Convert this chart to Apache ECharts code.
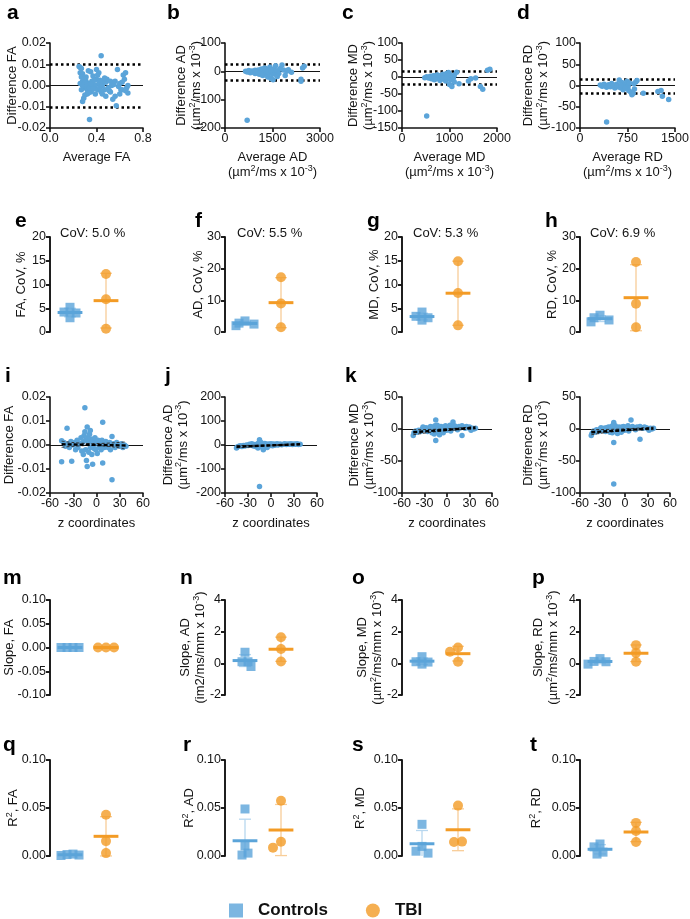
<!DOCTYPE html>
<html><head><meta charset="utf-8">
<script src="https://cdn.jsdelivr.net/npm/echarts/dist/echarts.min.js"></script>
<style>html,body{margin:0;padding:0;background:#fff}#c{width:690px;height:919px}</style>
</head><body><div id="c"></div>
<script>
// ================= DATA =================
// Bland-Altman: [average, difference]
const baFA = [[0.25,0.009],[0.26,0.0085],[0.27,0.008],[0.26,0.006],[0.28,0.0055],[0.27,0.004],[0.28,0.002],[0.29,0.001],[0.3,0.0],[0.3,-0.001],[0.31,0.002],[0.32,-0.002],[0.33,0.001],[0.34,0.0],[0.35,-0.003],[0.36,0.002],[0.37,0.001],[0.38,-0.001],[0.39,0.0],[0.4,0.003],[0.41,-0.002],[0.42,0.001],[0.44,0.014],[0.34,-0.016],[0.28,-0.0075],[0.29,-0.006],[0.3,-0.0045],[0.32,-0.004],[0.33,0.007],[0.35,0.0065],[0.37,0.0045],[0.4,0.0075],[0.42,0.006],[0.43,-0.001],[0.45,0.0],[0.46,0.002],[0.47,-0.002],[0.48,0.0015],[0.5,-0.001],[0.52,-0.003],[0.53,0.0],[0.54,-0.0065],[0.56,-0.005],[0.57,-0.0095],[0.58,0.0075],[0.6,0.001],[0.62,-0.002],[0.63,0.005],[0.65,0.006],[0.66,-0.001],[0.67,0.0],[0.67,-0.0035],[0.64,0.003],[0.61,-0.002],[0.59,-0.0005],[0.55,0.0005],[0.51,-0.0025],[0.49,0.003],[0.47,0.0035],[0.44,-0.003],[0.41,0.005],[0.39,-0.004],[0.36,-0.002],[0.33,-0.0035],[0.31,0.004],[0.29,0.003],[0.27,-0.002],[0.26,0.001],[0.28,0.0],[0.3,0.0015],[0.32,0.0005],[0.34,-0.001],[0.35,0.001],[0.37,-0.0015],[0.38,0.0025],[0.43,0.0025],[0.45,-0.004],[0.48,-0.005],[0.52,0.002],[0.56,0.002],[0.6,-0.004],[0.62,0.0015],[0.65,-0.0025]];
const baAD = [[700,-173],[650,0],[700,-2],[750,3],[800,-5],[850,1],[900,-3],[950,-8],[1000,2],[1020,-4],[1050,5],[1080,-10],[1100,0],[1120,-6],[1150,8],[1180,-2],[1200,-15],[1220,4],[1250,-3],[1280,10],[1300,-8],[1320,2],[1350,-20],[1380,6],[1400,-5],[1420,15],[1450,-25],[1480,3],[1500,-10],[1520,-30],[1550,8],[1580,-5],[1600,20],[1620,-12],[1650,2],[1700,-8],[1750,10],[1800,22],[1850,5],[1900,-15],[1950,0],[2000,6],[2100,-3],[2400,-35],[2400,-28],[2450,12],[2500,18],[1250,12],[1350,-1],[1150,-12],[1050,-7],[950,4],[1450,5],[1650,-18]];
const baMD = [[520,-115],[480,-2],[520,1],[560,-3],[600,2],[620,-5],[650,0],[680,-8],[700,3],[720,-2],[740,6],[760,-4],[780,1],[800,-10],[820,4],[840,-6],[860,8],[880,-1],[900,3],[920,-12],[940,10],[960,-5],[980,13],[1000,-22],[1020,-8],[1050,-28],[1080,-3],[1100,5],[1150,14],[1200,-20],[1400,-12],[1450,-5],[1550,-3],[1650,-28],[1700,-36],[1800,20],[1850,23],[700,-6],[750,5],[850,-2],[950,-1],[1000,7],[1100,-15],[580,0],[660,4]];
const baRD = [[420,-86],[320,1],[350,-2],[380,3],[400,0],[420,-4],[450,2],[480,-3],[500,5],[520,-1],[550,-6],[580,3],[600,-3],[620,13],[640,-5],[660,7],[680,-10],[700,2],[720,-4],[740,10],[760,-2],[780,6],[800,-15],[820,-22],[840,-18],[860,-8],[880,8],[900,12],[1000,-18],[1230,-14],[1280,-12],[1300,-25],[1400,-33],[360,0],[460,-1],[530,1],[590,-2],[650,0],[710,-7],[770,-12],[850,4]];
// limits of agreement [upper, lower]
const loaFA = [0.0062, -0.0062];
const loaAD = [24, -31];
const loaMD = [18, -22];
const loaRD = [15, -19];

// CoV (%) per subject
const covFA_ctrl = [5.2, 4.2, 4.0, 3.0];   const covFA_tbi = [12.2, 6.9, 0.7];
const covAD_ctrl = [3.5, 2.8, 2.5, 2.0];   const covAD_tbi = [17.3, 9.0, 1.5];
const covMD_ctrl = [4.2, 3.3, 3.0, 2.5];   const covMD_tbi = [14.9, 8.2, 1.4];
const covRD_ctrl = [5.3, 4.5, 3.8, 3.2];   const covRD_tbi = [22.1, 8.9, 1.5];
const covText = ['CoV: 5.0 %', 'CoV: 5.5 %', 'CoV: 5.3 %', 'CoV: 6.9 %'];

// difference vs z coordinate: [z, difference]
const zFA = [[-45,0.0018],[-45,-0.007],[-42,0.001],[-40,-0.0005],[-38,0.007],[-36,0.0005],[-35,-0.001],[-33,0.0015],[-32,-0.0068],[-30,0.0],[-28,0.001],[-27,-0.002],[-25,0.002],[-24,-0.001],[-22,0.0005],[-20,0.003],[-19,-0.0025],[-18,0.001],[-17,-0.004],[-16,0.004],[-15,0.0155],[-15,0.0055],[-14,0.002],[-14,-0.002],[-13,-0.0065],[-12,-0.009],[-12,0.0075],[-11,0.003],[-10,-0.003],[-10,0.001],[-9,0.0045],[-8,-0.001],[-8,0.006],[-7,0.0025],[-6,-0.004],[-5,-0.008],[-5,0.002],[-4,0.0005],[-3,-0.0015],[-2,0.003],[-1,-0.002],[0,0.001],[1,-0.0035],[2,0.002],[3,0.0],[4,-0.001],[5,0.0015],[6,-0.002],[7,0.002],[8,0.0095],[8,-0.0075],[9,0.0005],[10,-0.001],[12,0.0015],[14,0.0],[15,-0.001],[17,0.001],[18,-0.002],[20,-0.0145],[20,0.0035],[22,0.0005],[24,-0.001],[26,0.001],[28,0.0],[30,-0.0005],[32,0.0005],[34,-0.001],[36,0.0],[38,-0.0005]];
const zAD = [[-45,-12],[-44,-8],[-42,-5],[-40,-3],[-38,-6],[-36,-2],[-34,-4],[-32,0],[-30,-2],[-28,3],[-26,-1],[-25,5],[-23,-4],[-22,2],[-20,-6],[-19,0],[-18,4],[-17,-12],[-16,8],[-15,22],[-15,-173],[-14,-2],[-13,10],[-12,-8],[-11,3],[-10,-20],[-9,1],[-8,6],[-7,-3],[-6,2],[-5,-10],[-4,4],[-3,0],[-2,3],[-1,-2],[0,5],[1,1],[2,-3],[3,4],[4,2],[5,-1],[6,3],[8,5],[9,0],[10,2],[12,4],[14,1],[16,3],[18,5],[20,2],[22,4],[24,3],[26,5],[28,2],[30,4],[32,3],[34,5],[36,2],[38,3]];
const zMD = [[-45,-10],[-44,-6],[-42,-3],[-40,-5],[-38,-2],[-35,-4],[-33,0],[-32,3],[-30,-1],[-28,2],[-26,-4],[-25,1],[-23,-2],[-22,4],[-20,-6],[-19,0],[-18,3],[-17,-8],[-16,5],[-15,14],[-15,-18],[-14,-3],[-13,6],[-12,-5],[-11,2],[-10,-9],[-9,1],[-8,4],[-7,-2],[-6,2],[-5,-6],[-4,3],[-3,-1],[-2,5],[-1,-2],[0,3],[1,-1],[2,4],[3,0],[4,6],[5,-3],[6,2],[8,11],[9,1],[10,5],[12,3],[14,-1],[16,4],[18,2],[20,-10],[20,5],[22,3],[24,1],[26,4],[28,2],[30,3],[32,-2],[34,1],[36,0],[38,1]];
const zRD = [[-45,-10],[-44,-7],[-42,-3],[-40,-5],[-38,-1],[-35,-4],[-33,0],[-32,2],[-30,-2],[-28,1],[-26,-4],[-25,2],[-23,-1],[-22,3],[-20,-5],[-19,0],[-18,4],[-17,-6],[-16,6],[-15,10],[-15,-21],[-15,-86],[-14,-2],[-13,5],[-12,-4],[-11,2],[-10,-7],[-9,1],[-8,3],[-7,-2],[-6,1],[-5,-5],[-4,3],[-3,-1],[-2,4],[-1,-2],[0,2],[1,-1],[2,3],[3,0],[4,5],[5,-3],[6,2],[8,14],[9,1],[10,4],[12,2],[14,-1],[16,3],[18,2],[20,-16],[20,4],[22,2],[24,1],[26,3],[28,2],[30,1],[32,-2],[34,1],[36,0],[38,1]];
// regression line and 95% CI bands
const regFA = [[-45,0.0003],[38,-0.0002]];  const ciFAhi = [[-45,0.0016],[-5,0.0006],[38,0.0013]];  const ciFAlo = [[-45,-0.001],[-5,-0.0002],[38,-0.0017]];
const regAD = [[-45,-7],[38,3]];           const ciADhi = [[-45,-2],[-5,0],[38,6]];               const ciADlo = [[-45,-12],[-5,-4],[38,0]];
const regMD = [[-45,-5],[38,2]];           const ciMDhi = [[-45,-1],[-5,0],[38,4]];               const ciMDlo = [[-45,-9],[-5,-3],[38,0]];
const regRD = [[-45,-5],[38,1]];           const ciRDhi = [[-45,-1],[-5,0],[38,3]];               const ciRDlo = [[-45,-9],[-5,-3],[38,-1]];

// slopes
const slFA_ctrl = [0, 0, 0, 0];              const slFA_tbi = [0, 0, 0];
const slAD_ctrl = [0.7, 0.1, 0.1, -0.2];     const slAD_tbi = [1.65, 0.9, 0.12];
const slMD_ctrl = [0.42, 0.1, 0.08, -0.05];  const slMD_tbi = [1.0, 0.73, 0.1];
const slRD_ctrl = [0.3, 0.12, 0.1, -0.05];   const slRD_tbi = [1.15, 0.66, 0.1];
// R^2
const r2FA_ctrl = [0.002, 0.0015, 0.001, 0.0005];  const r2FA_tbi = [0.043, 0.0155, 0.003];
const r2AD_ctrl = [0.049, 0.0105, 0.003, 0.001];   const r2AD_tbi = [0.0576, 0.0149, 0.0087];
const r2MD_ctrl = [0.033, 0.01, 0.005, 0.003];     const r2MD_tbi = [0.0525, 0.0145, 0.015];
const r2RD_ctrl = [0.0125, 0.0095, 0.004, 0.002];  const r2RD_tbi = [0.0345, 0.026, 0.0145];

const groupNames = ['Controls', 'TBI'];

// ================= STYLE / BUILD =================
const FONT = '"Liberation Sans", Arial, Helvetica, sans-serif';
const BLUE = '#5ba4d9', ORANGE = '#f39b25', LBLUE = '#b7d7ef', LORANGE = '#f8cd98', INK = '#141414';
const RICH = {
  n: {fontFamily: FONT, fontSize: 13, color: INK, lineHeight: 15, verticalAlign: 'bottom'},
  s: {fontFamily: FONT, fontSize: 9, color: INK, lineHeight: 8, verticalAlign: 'top'}
};
const U_MS = '{n|(µm}{s|2}{n|/ms x 10}{s|-3}{n|)}';
const U_MSMM = '{n|(µm}{s|2}{n|/ms/mm x 10}{s|-3}{n|)}';

const grids = [], xAxes = [], yAxes = [], series = [], graphics = [];
function addGrid(l, t, w, h) {
  grids.push({left: l, top: t, width: w, height: h, containLabel: false, outerBoundsMode: 'none'});
  return grids.length - 1;
}
function axisCommon(lw) {
  return {
    axisLine: {show: true, onZero: false, lineStyle: {color: INK, width: lw || 1.6}},
    axisTick: {show: true, length: 4, lineStyle: {color: INK, width: lw || 1.6}},
    splitLine: {show: false},
    nameLocation: 'middle',
    nameMoveOverlap: false,
    nameTextStyle: {rich: RICH, fontFamily: FONT, fontSize: 13, color: INK}
  };
}
function label(fmt) {
  return {fontFamily: FONT, fontSize: 12.5, color: INK, margin: 4, showMinLabel: true, showMaxLabel: true, hideOverlap: false,
    formatter: v => (fmt != null ? v.toFixed(fmt) : String(v))};
}
function text(x, y, str, opt) {
  graphics.push({type: 'text', x: x, y: y, silent: true,
    style: Object.assign({text: str, fontFamily: FONT, fill: INK, fontSize: 13, verticalAlign: 'middle', align: 'left'}, opt || {})});
}
const letter = (x, y, s) => text(x, y, s, {fontSize: 21, fontWeight: 'bold', fill: '#000'});

function linePanel(o) {
  const gi = addGrid(o.l, o.t, o.w, o.h);
  xAxes.push(Object.assign(axisCommon(), {gridIndex: gi, type: 'value', position: 'bottom',
    min: o.x[0], max: o.x[1], interval: o.x[2], axisLabel: label(o.x[3]), name: o.xname, nameGap: o.xgap}));
  yAxes.push(Object.assign(axisCommon(), {gridIndex: gi, type: 'value', position: 'left',
    min: o.y[0], max: o.y[1], interval: o.y[2], axisLabel: label(o.y[3]), name: o.yname, nameGap: o.ygap}));
  const xi = xAxes.length - 1, yi = yAxes.length - 1;
  const ml = [{yAxis: 0, lineStyle: {type: 'solid', width: 1.1, color: INK}}];
  (o.limits || []).forEach(v => ml.push({yAxis: v, lineStyle: {type: [2.5, 3], width: 2.6, color: '#000', cap: 'butt'}}));
  series.push({type: 'scatter', name: 'diff', xAxisIndex: xi, yAxisIndex: yi, data: o.pts, symbolSize: 5.5,
    itemStyle: {color: BLUE, opacity: 1}, z: 3,
    markLine: {silent: true, symbol: 'none', label: {show: false}, z: 2, data: ml}});
  if (o.reg) {
    [o.cihi, o.cilo].forEach(d => series.push({type: 'line', xAxisIndex: xi, yAxisIndex: yi, data: d, symbol: 'none', smooth: true,
      lineStyle: {color: '#333', width: 1, type: [3, 2]}, z: 4}));
    series.push({type: 'line', xAxisIndex: xi, yAxisIndex: yi, data: o.reg, symbol: 'none',
      lineStyle: {color: '#000', width: 2.4, type: [4, 2]}, z: 5});
  }
}

const mean = a => a.reduce((s, v) => s + v, 0) / a.length;
const sd = a => { const m = mean(a); return Math.sqrt(a.reduce((s, v) => s + (v - m) * (v - m), 0) / (a.length - 1)); };
// scatter-dot layout: points whose values collide are pushed sideways (like a column scatter plot)
function spread(vals, xc, range, step) {
  const order = vals.map((v, i) => i).sort((a, b) => vals[b] - vals[a]);
  const th = range * 0.07;
  const slots = [0, -1, 1, -2, 2, -3, 3];
  const slot = new Array(vals.length);
  const placed = [];
  order.forEach(k => {
    const taken = placed.filter(j => Math.abs(vals[j] - vals[k]) < th).map(j => slot[j]);
    slot[k] = slots.find(s => taken.indexOf(s) < 0);
    placed.push(k);
  });
  const out = new Array(vals.length);
  order.forEach(k => {
    const grp = order.filter(j => Math.abs(vals[j] - vals[k]) < th * 0.3).map(j => slot[j]);
    const shift = (Math.min.apply(null, grp) + Math.max.apply(null, grp)) / 2;
    out[k] = [xc + (slot[k] - (grp.length > 1 ? shift : 0)) * step, vals[k]];
  });
  return out;
}
function dotPanel(o) {
  const gi = addGrid(o.l, o.t, 80, o.h);
  xAxes.push({gridIndex: gi, type: 'value', min: 0, max: 4, show: false});
  yAxes.push(Object.assign(axisCommon(1.9), {gridIndex: gi, type: 'value', position: 'left',
    min: o.y[0], max: o.y[1], interval: o.y[2], axisLabel: label(o.y[3]), name: o.yname, nameGap: o.ygap}));
  const xi = xAxes.length - 1, yi = yAxes.length - 1;
  const ymin = o.y[0], ymax = o.y[1], range = ymax - ymin;
  const XC = 1, XT = 2.8;
  const groups = [[XC, o.ctrl], [XT, o.tbi]];
  series.push({type: 'custom', name: 'sd', xAxisIndex: xi, yAxisIndex: yi, z: 1, silent: true,
    data: groups.map((g, k) => [g[0], mean(g[1]), sd(g[1]), k]),
    renderItem: (p, api) => {
      const x = api.value(0), m = api.value(1), s = api.value(2), k = api.value(3);
      const st = {stroke: k ? LORANGE : LBLUE, lineWidth: 1.3, fill: null};
      const hi = Math.min(m + s, ymax), lo = Math.max(m - s, ymin);
      const a = api.coord([x, hi]), b = api.coord([x, lo]);
      const ch = [{type: 'line', shape: {x1: a[0], y1: a[1], x2: b[0], y2: b[1]}, style: st}];
      if (m + s <= ymax) ch.push({type: 'line', shape: {x1: a[0] - 6, y1: a[1], x2: a[0] + 6, y2: a[1]}, style: st});
      if (m - s >= ymin) ch.push({type: 'line', shape: {x1: b[0] - 6, y1: b[1], x2: b[0] + 6, y2: b[1]}, style: st});
      return {type: 'group', children: ch};
    }});
  series.push({type: 'scatter', name: groupNames[0], xAxisIndex: xi, yAxisIndex: yi, symbol: 'rect', symbolSize: 9,
    data: spread(o.ctrl, XC, range, 0.3), itemStyle: {color: BLUE}, z: 2});
  series.push({type: 'scatter', name: groupNames[1], xAxisIndex: xi, yAxisIndex: yi, symbol: 'circle', symbolSize: 10,
    data: spread(o.tbi, XT, range, 0.4), itemStyle: {color: ORANGE}, z: 2});
  series.push({type: 'custom', name: 'mean', xAxisIndex: xi, yAxisIndex: yi, z: 3, silent: true,
    data: groups.map((g, k) => [g[0], mean(g[1]), k]),
    renderItem: (p, api) => {
      const x = api.value(0), m = api.value(1), k = api.value(2);
      const a = api.coord([x - 0.62, m]), b = api.coord([x + 0.62, m]);
      return {type: 'line', shape: {x1: a[0], y1: a[1], x2: b[0], y2: b[1]}, style: {stroke: k ? ORANGE : BLUE, lineWidth: 3}};
    }});
}

// ---- layout ----
// Row 1: Bland-Altman
linePanel({l: 50, t: 43, w: 93, h: 85, x: [0, 0.8, 0.4, 1], y: [-0.02, 0.02, 0.01, 2], pts: baFA, limits: loaFA,
  xname: '{n|Average FA}', xgap: 21, yname: '{n|Difference FA}', ygap: 31});
linePanel({l: 225, t: 43, w: 95, h: 85, x: [0, 3000, 1500], y: [-200, 100, 100], pts: baAD, limits: loaAD,
  xname: '{n|Average AD}\n' + U_MS, xgap: 21, yname: '{n|Difference AD}\n' + U_MS, ygap: 22});
linePanel({l: 402, t: 43, w: 95, h: 85, x: [0, 2000, 1000], y: [-150, 100, 50], pts: baMD, limits: loaMD,
  xname: '{n|Average MD}\n' + U_MS, xgap: 21, yname: '{n|Difference MD}\n' + U_MS, ygap: 27});
linePanel({l: 580, t: 43, w: 95, h: 85, x: [0, 1500, 750], y: [-100, 100, 50], pts: baRD, limits: loaRD,
  xname: '{n|Average RD}\n' + U_MS, xgap: 21, yname: '{n|Difference RD}\n' + U_MS, ygap: 30});
// Row 2: CoV
dotPanel({l: 50, t: 237, h: 95, y: [0, 20, 5], ctrl: covFA_ctrl, tbi: covFA_tbi, yname: '{n|FA, CoV, %}', ygap: 22});
dotPanel({l: 225, t: 237, h: 95, y: [0, 30, 10], ctrl: covAD_ctrl, tbi: covAD_tbi, yname: '{n|AD, CoV, %}', ygap: 20});
dotPanel({l: 402, t: 237, h: 95, y: [0, 20, 5], ctrl: covMD_ctrl, tbi: covMD_tbi, yname: '{n|MD, CoV, %}', ygap: 21});
dotPanel({l: 580, t: 237, h: 95, y: [0, 30, 10], ctrl: covRD_ctrl, tbi: covRD_tbi, yname: '{n|RD, CoV, %}', ygap: 21});
// Row 3: difference vs z
linePanel({l: 50, t: 397, w: 93, h: 96, x: [-60, 60, 30], y: [-0.02, 0.02, 0.01, 2], pts: zFA, reg: regFA, cihi: ciFAhi, cilo: ciFAlo,
  xname: '{n|z coordinates}', xgap: 22, yname: '{n|Difference FA}', ygap: 34});
linePanel({l: 225, t: 397, w: 92, h: 96, x: [-60, 60, 30], y: [-200, 200, 100], pts: zAD, reg: regAD, cihi: ciADhi, cilo: ciADlo,
  xname: '{n|z coordinates}', xgap: 22, yname: '{n|Difference AD}\n' + U_MS, ygap: 35.5});
linePanel({l: 402, t: 397, w: 90, h: 96, x: [-60, 60, 30], y: [-100, 50, 50], pts: zMD, reg: regMD, cihi: ciMDhi, cilo: ciMDlo,
  xname: '{n|z coordinates}', xgap: 22, yname: '{n|Difference MD}\n' + U_MS, ygap: 26});
linePanel({l: 580, t: 397, w: 90, h: 96, x: [-60, 60, 30], y: [-100, 50, 50], pts: zRD, reg: regRD, cihi: ciRDhi, cilo: ciRDlo,
  xname: '{n|z coordinates}', xgap: 22, yname: '{n|Difference RD}\n' + U_MS, ygap: 30.5});
// Row 4: slopes
dotPanel({l: 50, t: 600, h: 95, y: [-0.1, 0.1, 0.05, 2], ctrl: slFA_ctrl, tbi: slFA_tbi, yname: '{n|Slope, FA}', ygap: 34});
dotPanel({l: 225, t: 600, h: 95, y: [-2, 4, 2], ctrl: slAD_ctrl, tbi: slAD_tbi, yname: '{n|Slope, AD}\n{n|(im2/ms/mm x 10}{s|-3}{n|)}', ygap: 18});
dotPanel({l: 402, t: 600, h: 95, y: [-2, 4, 2], ctrl: slMD_ctrl, tbi: slMD_tbi, yname: '{n|Slope, MD}\n' + U_MSMM, ygap: 18});
dotPanel({l: 580, t: 600, h: 95, y: [-2, 4, 2], ctrl: slRD_ctrl, tbi: slRD_tbi, yname: '{n|Slope, RD}\n' + U_MSMM, ygap: 20});
// Row 5: R^2
dotPanel({l: 50, t: 760, h: 96, y: [0, 0.1, 0.05, 2], ctrl: r2FA_ctrl, tbi: r2FA_tbi, yname: '{n|R}{s|2}{n|, FA}', ygap: 30});
dotPanel({l: 225, t: 760, h: 96, y: [0, 0.1, 0.05, 2], ctrl: r2AD_ctrl, tbi: r2AD_tbi, yname: '{n|R}{s|2}{n|, AD}', ygap: 29});
dotPanel({l: 402, t: 760, h: 96, y: [0, 0.1, 0.05, 2], ctrl: r2MD_ctrl, tbi: r2MD_tbi, yname: '{n|R}{s|2}{n|, MD}', ygap: 35});
dotPanel({l: 580, t: 760, h: 96, y: [0, 0.1, 0.05, 2], ctrl: r2RD_ctrl, tbi: r2RD_tbi, yname: '{n|R}{s|2}{n|, RD}', ygap: 37});

// panel letters
[['a', 7, 13], ['b', 167, 13], ['c', 342, 13], ['d', 517, 13],
 ['e', 15, 221], ['f', 195, 221], ['g', 367, 221], ['h', 545, 221],
 ['i', 5, 376], ['j', 165, 376], ['k', 345, 376], ['l', 527, 376],
 ['m', 3, 578], ['n', 180, 578], ['o', 352, 578], ['p', 532, 578],
 ['q', 3, 745], ['r', 183, 745], ['s', 352, 745], ['t', 530, 745]].forEach(a => letter(a[1], a[2], a[0]));
// CoV annotations
[60, 237, 413, 590].forEach((x, i) => text(x, 233, covText[i]));

const chart = echarts.init(document.getElementById('c'), null, {renderer: 'canvas'});
chart.setOption({
  animation: false,
  backgroundColor: '#fff',
  grid: grids, xAxis: xAxes, yAxis: yAxes, series: series, graphic: graphics,
  legend: {left: 224, top: 897, itemWidth: 14, itemHeight: 14, itemGap: 38, selectedMode: false,
    data: [{name: groupNames[0], icon: 'rect'}, {name: groupNames[1], icon: 'circle'}],
    textStyle: {fontFamily: FONT, fontWeight: 'bold', fontSize: 17, color: '#111', padding: [0, 0, 0, 10]}}
});
</script>
</body></html>
